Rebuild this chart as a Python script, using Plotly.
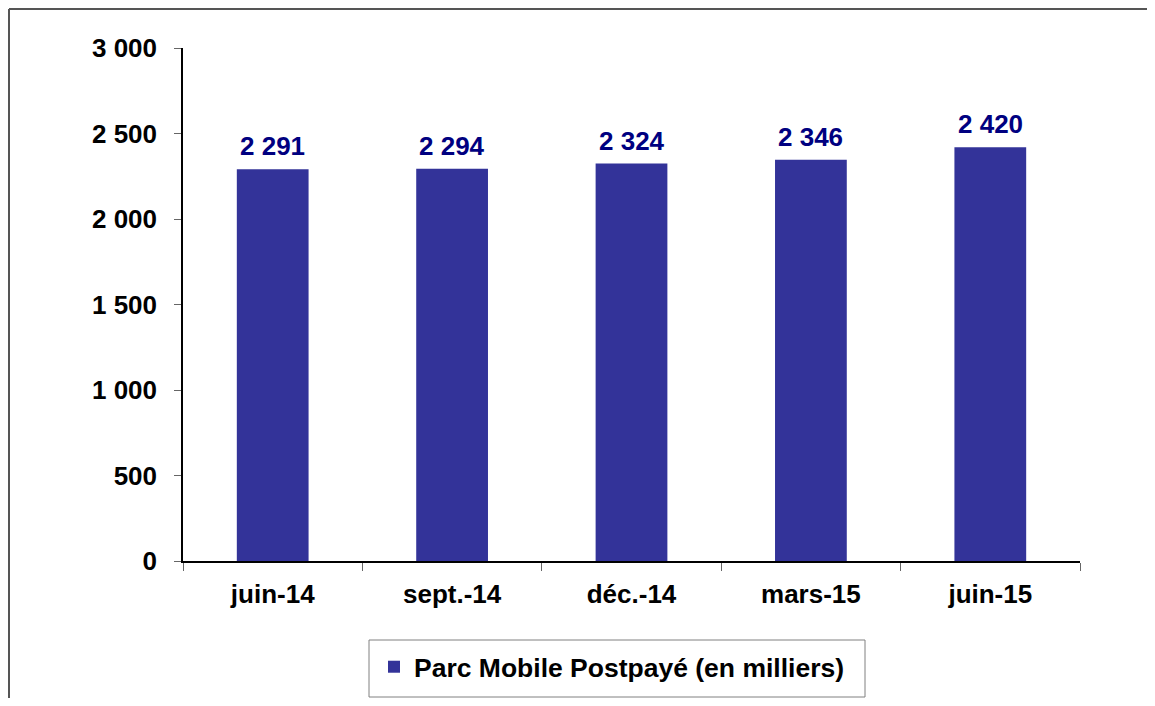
import plotly.graph_objects as go

categories = ["juin-14", "sept.-14", "déc.-14", "mars-15", "juin-15"]
values = [2291, 2294, 2324, 2346, 2420]
series_name = "Parc Mobile Postpayé (en milliers)"
y_ticks = [0, 500, 1000, 1500, 2000, 2500, 3000]

OFF = 8  # page body margin
W, H = 1155 - 2 * OFF, 706 - 2 * OFF
L, T = 183 - OFF, 48 - OFF
pw, ph = 897, 513
R, B = W - L - pw, H - T - ph

def px_x(x):
    return (x - OFF - L) / pw

def px_y(y):
    return (T + ph - (y - OFF)) / ph

FONT = "Liberation Sans, Arial, sans-serif"

def f(size, color="black"):
    return dict(family=FONT, size=size, color=color, weight="bold")

def fmt(v):
    return f"{v:,}".replace(",", " ")

fig = go.Figure()
fig.add_trace(go.Bar(
    x=categories, y=values, name=series_name,
    marker=dict(color="#333399", line=dict(width=0)),
    showlegend=True,
))

annotations = [
    dict(x=c, y=v, xref="x", yref="y", text=fmt(v), showarrow=False,
         yanchor="bottom", yshift=6, font=f(26, "#000080"))
    for c, v in zip(categories, values)
]

fig.update_layout(
    width=W, height=H,
    margin=dict(l=L, r=R, t=T, b=B, autoexpand=False),
    paper_bgcolor="white", plot_bgcolor="white",
    separators=", ",
    bargap=0.6,
    font=f(26),
    showlegend=True,
    legend=dict(
        orientation="h", x=px_x(374), xanchor="left", y=px_y(643), yanchor="top",
        borderwidth=0, bgcolor="rgba(0,0,0,0)", itemwidth=30,
        font=f(26.5),
    ),
    xaxis=dict(
        showline=True, linecolor="black", linewidth=1.5,
        ticks="outside", tickson="boundaries", ticklen=8, tickcolor="#666666",
        tickfont=f(26),
        showgrid=False, ticklabelstandoff=9,
    ),
    yaxis=dict(
        range=[0, 3000], tickvals=y_ticks, tickformat=",d",
        showline=True, linecolor="black", linewidth=1.5,
        ticks="outside", ticklen=7, tickcolor="#666666",
        tickfont=f(26),
        showgrid=False, zeroline=False, ticklabelstandoff=12,
    ),
    annotations=annotations,
    shapes=[
        dict(type="line", xref="paper", yref="paper", x0=px_x(9), x1=px_x(1160), y0=px_y(9), y1=px_y(9),
             line=dict(color="#555555", width=2)),
        dict(type="line", xref="paper", yref="paper", x0=px_x(9), x1=px_x(9), y0=px_y(9), y1=px_y(710),
             line=dict(color="#555555", width=2)),
        dict(type="rect", xref="paper", yref="paper", x0=px_x(369), x1=px_x(865), y0=px_y(640), y1=px_y(697),
             line=dict(color="#808080", width=1), layer="below"),
    ],
)

fig.write_html("out.html")
